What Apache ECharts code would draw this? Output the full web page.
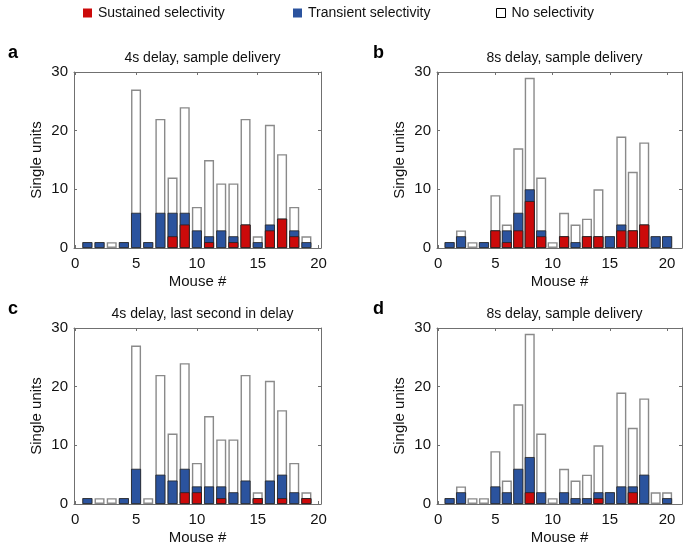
<!DOCTYPE html>
<html>
<head>
<meta charset="utf-8">
<script src="https://cdn.jsdelivr.net/npm/echarts@6/dist/echarts.min.js"></script>
<style>html,body{margin:0;padding:0;background:#fff}#c{width:688px;height:551px}</style>
</head>
<body>
<div id="c"></div>
<script>
// ---- data ----
const mice19 = [1,2,3,4,5,6,7,8,9,10,11,12,13,14,15,16,17,18,19];
const mice20 = [1,2,3,4,5,6,7,8,9,10,11,12,13,14,15,16,17,18,19,20];
const xTicks = [0,5,10,15,20];
const yTicks = [0,10,20,30];
const panelTitles = ['4s delay, sample delivery','8s delay, sample delivery','4s delay, last second in delay','8s delay, sample delivery'];
const panelLetters = ['a','b','c','d'];
const legendNames = ['Sustained selectivity','Transient selectivity','No selectivity'];

const aSustained = [0,0,0,0,0,0,0,2,4,0,1,0,1,4,0,3,5,2,0];
const aTransient = [1,1,0,1,6,1,6,4,2,3,1,3,1,0,1,1,0,1,1];
const aTotal     = [1,1,1,1,27,1,22,12,24,7,15,11,11,22,2,21,16,7,2];

const bSustained = [0,0,0,0,3,1,3,8,2,0,2,0,2,2,0,3,3,4,0,0];
const bTransient = [1,2,0,1,0,2,3,2,1,0,0,1,0,0,2,1,0,0,2,2];
const bTotal     = [1,3,1,1,9,4,17,29,12,1,6,4,5,10,2,19,13,18,2,2];

const cSustained = [0,0,0,0,0,0,0,0,2,2,0,1,0,0,1,0,1,0,1];
const cTransient = [1,0,0,1,6,0,5,4,4,1,3,2,2,4,0,4,4,2,0];
const cTotal     = [1,1,1,1,27,1,22,12,24,7,15,11,11,22,2,21,16,7,2];

const dSustained = [0,0,0,0,0,0,0,2,0,0,0,0,0,1,0,0,2,0,0,0];
const dTransient = [1,2,0,0,3,2,6,6,2,0,2,1,1,1,2,3,1,5,0,1];
const dTotal     = [1,3,1,1,9,4,17,29,12,1,6,4,5,10,2,19,13,18,2,2];

// ---- layout ----
const FONT = 'Liberation Sans, Arial, Helvetica, sans-serif';
const RED = '#cc0a0a', BLUE = '#2b539e';
const panels = [
  {mice: mice19, s: aSustained, t: aTransient, tot: aTotal, grid:{left:74, top:72, width:247, height:176}, xmin:-0.1, xmax:20.2},
  {mice: mice20, s: bSustained, t: bTransient, tot: bTotal, grid:{left:437, top:72, width:245, height:176}, xmin:-0.1, xmax:21.3},
  {mice: mice19, s: cSustained, t: cTransient, tot: cTotal, grid:{left:74, top:328, width:247, height:176}, xmin:-0.1, xmax:20.2},
  {mice: mice20, s: dSustained, t: dTransient, tot: dTotal, grid:{left:437, top:328, width:245, height:176}, xmin:-0.1, xmax:21.3}
];

const grid = [], xAxis = [], yAxis = [], series = [], title = [], graphic = [];
panels.forEach((p, i) => {
  grid.push(Object.assign({show:false, containLabel:false}, p.grid));
  const axLine = {show:true, onZero:false, lineStyle:{color:'#707070', width:1}};
  const xTick = {show:true, inside:true, length:3, customValues:xTicks, lineStyle:{color:'#707070'}};
  const yTick = {show:true, inside:true, length:3, customValues:yTicks, lineStyle:{color:'#707070'}};
  xAxis.push({type:'value', gridIndex:i, min:p.xmin, max:p.xmax,
    axisLine:axLine, axisTick:xTick, splitLine:{show:false},
    axisLabel:{color:'#111', fontSize:15, fontFamily:FONT, margin:8, customValues:xTicks},
    name:'Mouse #', nameLocation:'middle', nameGap:26,
    nameTextStyle:{color:'#111', fontSize:15, fontFamily:FONT}});
  xAxis.push({type:'value', gridIndex:i, position:'top', min:p.xmin, max:p.xmax,
    axisLine:axLine, axisTick:xTick, axisLabel:{show:false}, splitLine:{show:false}});
  yAxis.push({type:'value', gridIndex:i, min:0, max:30, interval:10,
    axisLine:axLine, axisTick:yTick, splitLine:{show:false},
    axisLabel:{color:'#111', fontSize:15, fontFamily:FONT, margin:6, customValues:yTicks},
    name:'Single units', nameLocation:'middle', nameGap:30,
    nameTextStyle:{color:'#111', fontSize:15, fontFamily:FONT}});
  yAxis.push({type:'value', gridIndex:i, position:'right', min:0, max:30, interval:10,
    axisLine:axLine, axisTick:yTick, axisLabel:{show:false}, splitLine:{show:false}});

  const xi = 2*i, yi = 2*i;
  const totData = p.mice.map((m,k) => [m, p.tot[k]]);
  const blueData = p.mice.map((m,k) => { const v = p.s[k] + p.t[k]; return [m, v > 0 ? v : '-']; });
  const redData = p.mice.map((m,k) => [m, p.s[k] > 0 ? p.s[k] : '-']);
  const common = {type:'bar', xAxisIndex:xi, yAxisIndex:yi, barWidth:10, barGap:'-100%', animation:false};
  series.push(Object.assign({name:legendNames[2], data:totData,
    itemStyle:{color:'#fff', borderColor:'#8a8a8a', borderWidth:1.4}}, common));
  series.push(Object.assign({name:legendNames[1], data:blueData,
    itemStyle:{color:BLUE, borderColor:'#222', borderWidth:0.8}}, common));
  series.push(Object.assign({name:legendNames[0], data:redData,
    itemStyle:{color:RED, borderColor:'#222', borderWidth:0.8}}, common));

  const cx = p.grid.left + p.grid.width/2;
  title.push({text:panelTitles[i], left:cx, top:p.grid.top - 26, textAlign:'center',
    textStyle:{color:'#111', fontSize:14, fontWeight:'normal', fontFamily:FONT}});
  graphic.push({type:'text', left: i % 2 === 0 ? 8 : 373, top: p.grid.top - 28,
    style:{text:panelLetters[i], fill:'#000', font:'bold 18px ' + FONT}});
});

const legend = [
  {left:78, data:[{name:legendNames[0], itemStyle:{borderWidth:0}}]},
  {left:288, data:[{name:legendNames[1], itemStyle:{borderWidth:0}}]},
  {left:491, data:[{name:legendNames[2], itemStyle:{color:'#fff', borderColor:'#000', borderWidth:1}}]}
].map(l => Object.assign({top:1, icon:'rect', itemWidth:9, itemHeight:9, selectedMode:false,
  textStyle:{color:'#111', fontSize:14, fontFamily:FONT, padding:[0,0,0,1]}}, l));

const chart = echarts.init(document.getElementById('c'), null, {renderer:'canvas'});
chart.setOption({backgroundColor:'#fff', animation:false, grid, xAxis, yAxis, series, title, legend, graphic});
</script>
</body>
</html>
